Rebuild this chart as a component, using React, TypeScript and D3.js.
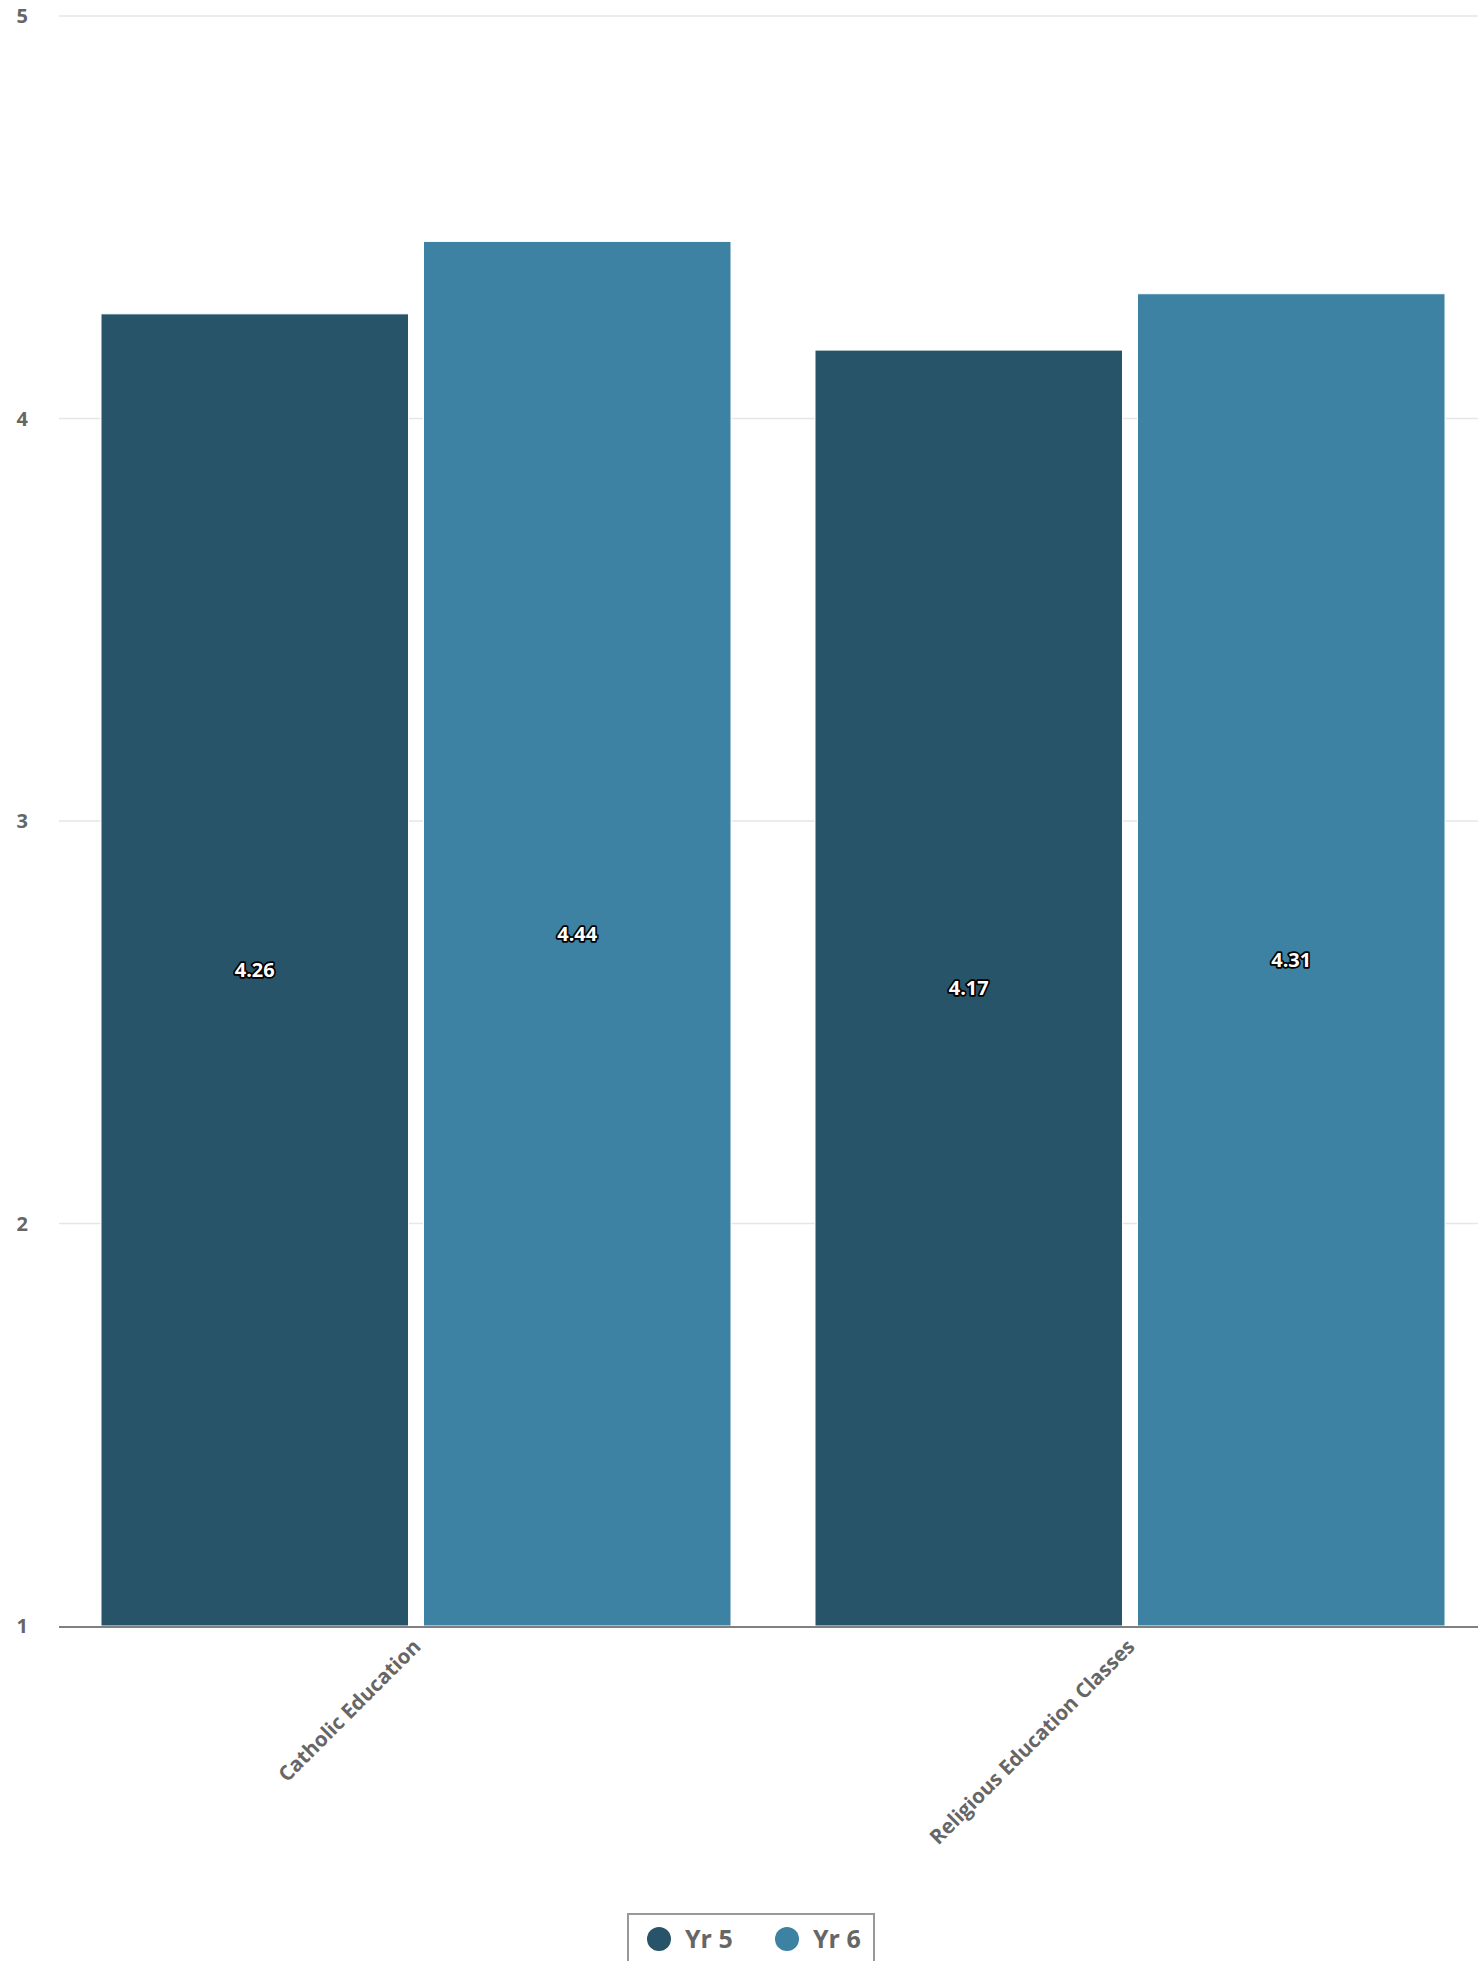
import React from 'react';
import * as d3 from 'd3';

const categories = ['Catholic Education', 'Religious Education Classes'];
const seriesNames = ['Yr 5', 'Yr 6'];
const yr5Values = [4.26, 4.17];
const yr6Values = [4.44, 4.31];
const yTicks = [1, 2, 3, 4, 5];
const colors = ['#275469', '#3d81a3'];

const W = 1478;
const H = 1961;
const margin = { top: 16, left: 59, right: 1487, bottom: 1626 };
const font = '"Open Sans", sans-serif';

const App = () => {
  const values = [yr5Values, yr6Values];

  const y = d3.scaleLinear().domain([1, 5]).range([margin.bottom, margin.top]);
  const x0 = d3.scaleBand().domain(categories).range([margin.left, margin.right]).padding(0);
  const groupPad = 42;
  const x1 = d3
    .scaleBand()
    .domain(seriesNames)
    .range([groupPad, x0.bandwidth() - groupPad])
    .paddingInner(0.0465)
    .paddingOuter(0);

  const legendX = 628;
  const legendY = 1914;

  return (
    <svg
      width={W}
      height={H}
      style={{ position: 'absolute', left: 0, top: 0, fontFamily: font }}
    >
      {/* grid + y labels */}
      {yTicks.map(t => (
        <g key={t}>
          {t !== 1 && (
            <line x1={margin.left} x2={margin.right} y1={y(t)} y2={y(t)} stroke="#e6e6e6" strokeWidth={1.5} />
          )}
          <text
            x={28}
            y={y(t)}
            dy="0.36em"
            textAnchor="end"
            fontSize={20}
            fontWeight={700}
            fill="#666"
          >
            {t}
          </text>
        </g>
      ))}

      {/* bars */}
      {categories.map((c, ci) => (
        <g key={c} transform={`translate(${x0(c)},0)`}>
          {seriesNames.map((s, si) => {
            const v = values[si][ci];
            const bx = x1(s) as number;
            const top = y(v);
            return (
              <g key={s}>
                <rect
                  x={bx}
                  y={top}
                  width={x1.bandwidth()}
                  height={margin.bottom - top}
                  fill={colors[si]}
                  stroke="#fff"
                  strokeWidth={1}
                />
                <text
                  x={bx + x1.bandwidth() / 2}
                  y={(top + margin.bottom) / 2}
                  dy="0.35em"
                  textAnchor="middle"
                  fontSize={20}
                  fontWeight={700}
                  fill="#fff"
                  stroke="#000"
                  strokeWidth={3.5}
                  strokeLinejoin="round"
                  style={{ paintOrder: 'stroke' }}
                >
                  {v.toFixed(2)}
                </text>
              </g>
            );
          })}
        </g>
      ))}

      {/* x axis line */}
      <line x1={margin.left} x2={margin.right} y1={margin.bottom + 1} y2={margin.bottom + 1} stroke="#808080" strokeWidth={2} />

      {/* category labels */}
      {categories.map(c => {
        const cx = (x0(c) as number) + x0.bandwidth() / 2 + 6;
        const cy = margin.bottom + 22;
        return (
          <text
            key={c}
            x={cx}
            y={cy}
            textAnchor="end"
            fontSize={20.5}
            fontWeight={700}
            fill="#666"
            transform={`rotate(-45,${cx},${cy})`}
          >
            {c}
          </text>
        );
      })}

      {/* legend */}
      <rect x={legendX} y={legendY} width={246} height={60} fill="#fff" stroke="#999" strokeWidth={2} />
      {seriesNames.map((s, i) => {
        const lx = legendX + 31 + i * 128;
        return (
          <g key={s}>
            <circle cx={lx} cy={legendY + 25} r={12} fill={colors[i]} />
            <text x={lx + 26} y={legendY + 25} dy="0.36em" fontSize={25} fontWeight={700} fill="#666">
              {s}
            </text>
          </g>
        );
      })}
    </svg>
  );
};

export default App;
